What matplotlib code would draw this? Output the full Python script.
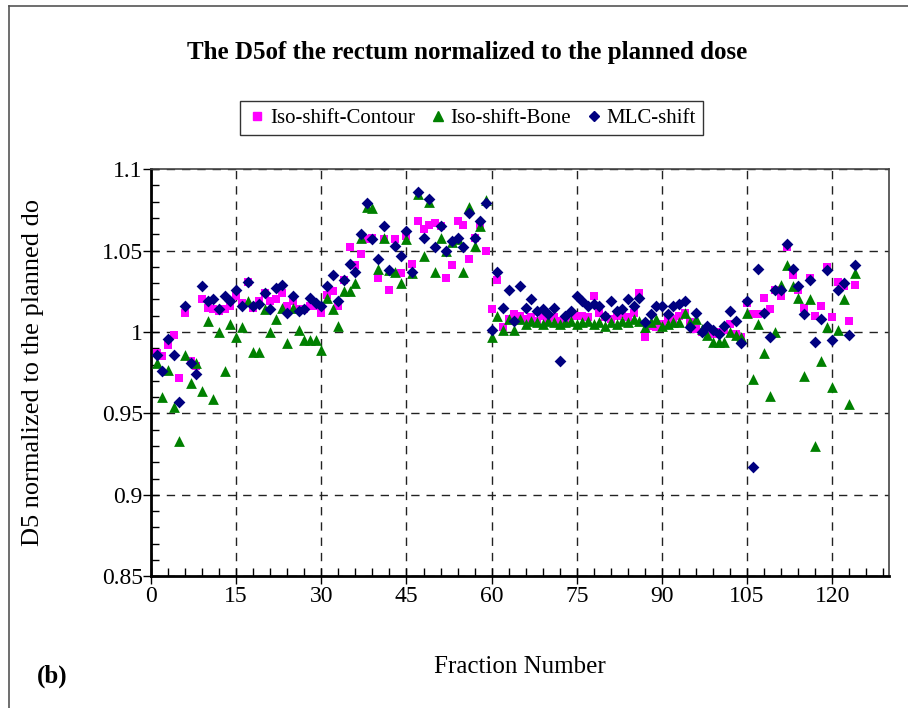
import numpy as np
import matplotlib.pyplot as plt
from matplotlib.ticker import MultipleLocator
from matplotlib.lines import Line2D

plt.rcParams['font.family'] = ['Liberation Serif', 'DejaVu Serif']

#----------------------------DATA-----------------------------------#

fraction = np.arange(1, 125)

iso_contour = [
    0.987, 0.985, 0.992, 0.998, 0.972, 1.012, 0.982, 0.979, 1.020, 1.015,
    1.014, 1.013, 1.014, 1.016, 1.022, 1.018, 1.031, 1.015, 1.019, 1.024,
    1.019, 1.020, 1.024, 1.016, 1.019, 1.014, 1.014, 1.016, 1.016, 1.012,
    1.023, 1.025, 1.016, 1.032, 1.052, 1.041, 1.048, 1.057, 1.058, 1.033,
    1.057, 1.026, 1.057, 1.036, 1.059, 1.042, 1.068, 1.063, 1.066, 1.067,
    1.065, 1.033, 1.041, 1.068, 1.066, 1.045, 1.058, 1.066, 1.050, 1.014,
    1.032, 1.003, 1.008, 1.011, 1.010, 1.008, 1.009, 1.007, 1.010, 1.008,
    1.009, 1.007, 1.008, 1.010, 1.010, 1.010, 1.009, 1.022, 1.012, 1.009,
    1.008, 1.010, 1.011, 1.009, 1.012, 1.024, 0.997, 1.004, 1.003, 1.005,
    1.008, 1.008, 1.010, 1.012, 1.006, 1.002, 1.000, 1.002, 0.999, 1.000,
    1.001, 1.005, 0.999, 0.997, 1.018, 1.011, 1.011, 1.021, 1.014, 1.026,
    1.022, 1.052, 1.035, 1.026, 1.015, 1.033, 1.010, 1.016, 1.040, 1.009,
    1.031, 1.028, 1.007, 1.029]

iso_bone = [
    0.981, 0.960, 0.977, 0.954, 0.933, 0.986, 0.969, 0.981, 0.964, 1.007,
    0.959, 1.000, 0.976, 1.005, 0.997, 1.003, 1.019, 0.988, 0.988, 1.014,
    1.000, 1.008, 1.015, 0.993, 1.015, 1.001, 0.995, 0.995, 0.995, 0.989,
    1.021, 1.014, 1.004, 1.025, 1.025, 1.030, 1.058, 1.077, 1.076, 1.039,
    1.058, 1.038, 1.037, 1.030, 1.057, 1.036, 1.085, 1.047, 1.080, 1.037,
    1.058, 1.050, 1.055, 1.057, 1.037, 1.077, 1.053, 1.065, 1.081, 0.997,
    1.010, 1.001, 1.008, 1.001, 1.008, 1.005, 1.007, 1.006, 1.005, 1.007,
    1.006, 1.005, 1.006, 1.007, 1.005, 1.006, 1.007, 1.005, 1.006, 1.004,
    1.006, 1.005, 1.007, 1.006, 1.008, 1.007, 1.003, 1.006, 1.008, 1.004,
    1.005, 1.006, 1.006, 1.012, 1.006, 1.008, 1.002, 0.998, 0.994, 0.994,
    0.994, 1.000, 0.998, 0.997, 1.012, 0.971, 1.005, 0.987, 0.961, 1.000,
    1.029, 1.041, 1.028, 1.021, 0.973, 1.020, 0.930, 0.982, 1.003, 0.966,
    1.001, 1.020, 0.956, 1.036]

mlc_shift = [
    0.986, 0.976, 0.996, 0.986, 0.957, 1.016, 0.981, 0.974, 1.028, 1.019,
    1.020, 1.014, 1.022, 1.019, 1.026, 1.016, 1.031, 1.016, 1.017, 1.024,
    1.014, 1.027, 1.029, 1.012, 1.022, 1.013, 1.014, 1.021, 1.018, 1.016,
    1.028, 1.035, 1.019, 1.032, 1.042, 1.037, 1.060, 1.079, 1.057, 1.045,
    1.065, 1.038, 1.053, 1.047, 1.062, 1.037, 1.086, 1.058, 1.082, 1.052,
    1.065, 1.050, 1.056, 1.058, 1.052, 1.073, 1.058, 1.068, 1.079, 1.001,
    1.037, 1.015, 1.026, 1.007, 1.028, 1.015, 1.020, 1.013, 1.014, 1.011,
    1.015, 0.982, 1.010, 1.013, 1.022, 1.019, 1.016, 1.017, 1.016, 1.010,
    1.019, 1.013, 1.014, 1.020, 1.016, 1.021, 1.006, 1.011, 1.016, 1.016,
    1.011, 1.016, 1.017, 1.019, 1.003, 1.012, 1.000, 1.004, 1.001, 0.999,
    1.004, 1.013, 1.007, 0.993, 1.019, 0.917, 1.039, 1.012, 0.997, 1.026,
    1.026, 1.054, 1.039, 1.028, 1.011, 1.032, 0.994, 1.008, 1.038, 0.995,
    1.026, 1.030, 0.998, 1.041]

x_ticks = [0, 15, 30, 45, 60, 75, 90, 105, 120]
y_ticks = [0.85, 0.9, 0.95, 1.0, 1.05, 1.1]
y_labels = ['0.85', '0.9', '0.95', '1', '1.05', '1.1']

#---------------------------PLOT-------------------------------------#

fig = plt.figure(figsize=(9.08, 7.08), dpi=100)
ax = fig.add_axes([0.1663, 0.186, 0.8128, 0.575])

ax.scatter(fraction, iso_contour, marker='s', s=40, color='#FF00FF',
           linewidths=0, label='Iso-shift-Contour', zorder=3)
ax.scatter(fraction, iso_bone, marker='^', s=60, color='#008000',
           linewidths=0, label='Iso-shift-Bone', zorder=3)
ax.scatter(fraction, mlc_shift, marker='D', s=36, color='#000080',
           linewidths=0, label='MLC-shift', zorder=3)

ax.set_xlim(0, 130)
ax.set_ylim(0.85, 1.1)
ax.set_xticks(x_ticks)
ax.set_yticks(y_ticks)
ax.set_yticklabels(y_labels)
ax.xaxis.set_minor_locator(MultipleLocator(3))
ax.yaxis.set_minor_locator(MultipleLocator(0.01))
ax.tick_params(which='major', direction='inout', length=12, width=1,
               labelsize=17, pad=0)
ax.tick_params(axis='x', which='major', pad=1)
ax.tick_params(which='minor', direction='in', length=6, width=1)

ax.grid(True, which='major', color='#222222', linestyle=(0, (6, 5)),
        linewidth=1)
ax.set_axisbelow(True)

for side in ['left', 'bottom']:
    ax.spines[side].set_linewidth(2)
for side in ['top', 'right']:
    ax.spines[side].set_linewidth(1.2)
    ax.spines[side].set_color('#444444')

ax.set_ylabel('D5 normalized to the planned do', fontsize=19)
ax.yaxis.set_label_coords(-0.145, 0.5)
ax.set_xlabel('Fraction Number', fontsize=18)
ax.xaxis.set_label_coords(0.5, -0.195)

fig.text(0.515, 0.926, 'The D5of the rectum normalized to the planned dose',
         ha='center', va='center', fontsize=18, fontweight='bold')
fig.text(0.057, 0.045, '(b)', ha='center', va='center', fontsize=18,
         fontweight='bold')

handles = [
    Line2D([], [], marker='s', color='#FF00FF', linestyle='', markersize=6),
    Line2D([], [], marker='^', color='#008000', linestyle='', markersize=7),
    Line2D([], [], marker='D', color='#000080', linestyle='', markersize=5),
]
leg = fig.legend(handles, ['Iso-shift-Contour', 'Iso-shift-Bone', 'MLC-shift'],
                 loc='center', bbox_to_anchor=(0.519, 0.833), ncol=3,
                 fontsize=15, frameon=True, fancybox=False,
                 handletextpad=0.1, columnspacing=0.6, handlelength=1.0,
                 borderpad=0.35)
leg.get_frame().set_edgecolor('black')
leg.get_frame().set_linewidth(1)

# thin border around the chart area
fig.add_artist(Line2D([0.01, 0.01], [0, 0.991], color='#555555', lw=1.2))
fig.add_artist(Line2D([0.01, 1.0], [0.991, 0.991], color='#555555', lw=1.2))

plt.savefig('out.png', dpi=100)
